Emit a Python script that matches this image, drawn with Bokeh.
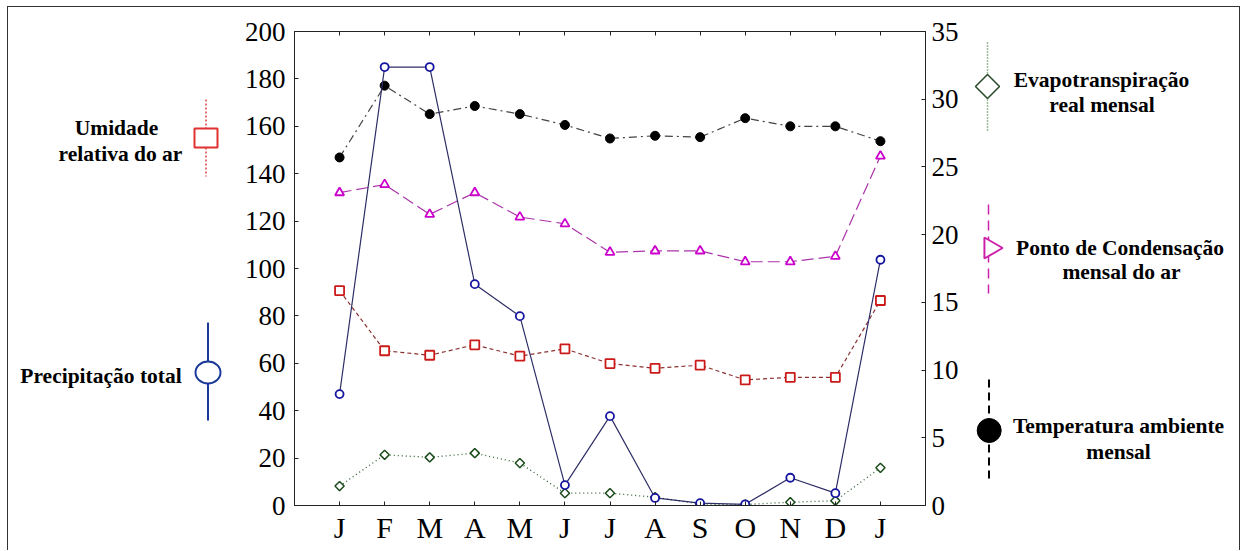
from bokeh.plotting import figure
from bokeh.models import Range1d, LinearAxis, FixedTicker
from bokeh.layouts import row
from bokeh.embed import file_html
from bokeh.resources import INLINE
from bokeh.core.properties import value
import math

# ---- data ----
months = ["J", "F", "M", "A", "M", "J", "J", "A", "S", "O", "N", "D", "J"]
month_pos = list(range(1, 14))
precipitacao = [47.0, 185.0, 185.0, 93.4, 79.9, 8.6, 37.7, 3.2, 1.0, 0.5, 11.7, 5.2, 103.7]
umidade = [90.7, 65.3, 63.4, 67.8, 63.0, 66.1, 59.9, 57.9, 59.2, 53.0, 54.1, 54.1, 86.5]
evapo = [8.2, 21.4, 20.3, 22.1, 17.9, 5.2, 5.2, 3.5, 0.6, 0.4, 1.4, 2.0, 15.9]
condensacao = [23.1, 23.7, 21.5, 23.1, 21.3, 20.8, 18.7, 18.8, 18.8, 18.0, 18.0, 18.4, 25.8]
temperatura = [25.7, 31.0, 28.9, 29.5, 28.9, 28.1, 27.1, 27.3, 27.2, 28.6, 28.0, 28.0, 26.9]
left_ticks = list(range(0, 201, 20))
right_ticks = list(range(0, 36, 5))

FONT = "Liberation Serif"
AX = "#222222"

# geometry (page pixels): content box starts at x=8, y=7
CX, CY = 8, 7
FL, FR, FT, FB = 294, 925, 31, 505
H = 543
MB_TOP, MB_BOT = FT - CY, CY + H - FB

# ---- main chart ----
p = figure(width=749, height=H, x_range=Range1d(0, 14), y_range=Range1d(0, 200),
           output_backend="svg", toolbar_location=None,
           min_border_left=70, min_border_right=48, min_border_top=MB_TOP, min_border_bottom=MB_BOT)
p.extra_y_ranges = {"right": Range1d(0, 35)}
p.grid.visible = False
p.outline_line_color = AX
p.background_fill_color = "white"
p.border_fill_color = "white"


def style_axis(ax, size):
    ax.major_tick_in = 4
    ax.major_tick_out = 0
    ax.minor_tick_line_color = None
    ax.axis_line_color = AX
    ax.major_tick_line_color = AX
    ax.major_label_text_font = FONT
    ax.major_label_text_font_size = size
    ax.major_label_text_color = "black"


xa = p.xaxis[0]
xa.ticker = FixedTicker(ticks=month_pos)
xa.major_label_overrides = {i: m for i, m in zip(month_pos, months)}
style_axis(xa, "30px")
xa.major_label_standoff = 5

ya = p.yaxis[0]
ya.ticker = FixedTicker(ticks=left_ticks)
style_axis(ya, "27px")
ya.major_label_standoff = 9

top = LinearAxis(ticker=FixedTicker(ticks=month_pos), major_label_standoff=0)
style_axis(top, "1px")
top.major_label_text_color = None
p.add_layout(top, "above")

ra = LinearAxis(y_range_name="right", ticker=FixedTicker(ticks=right_ticks))
style_axis(ra, "27px")
ra.major_label_standoff = 6
p.add_layout(ra, "right")

# ---- series ----
p.line(month_pos, evapo, color="#2f5f2f", line_dash="1 3", line_width=1.3)
p.scatter(month_pos, evapo, marker="square", angle=math.pi / 4, size=6.5,
          fill_color="white", line_color="#1a4a1a", line_width=1.5)

p.line(month_pos, umidade, color="#8a3030", line_dash="4 3", line_width=1.2)
p.scatter(month_pos, umidade, marker="square", size=9, fill_color="white",
          line_color="#cc1a1a", line_width=1.8)

p.line(month_pos, condensacao, y_range_name="right", color="#aa33aa",
       line_dash="12 5", line_width=1.2)
p.scatter(month_pos, condensacao, y_range_name="right", marker="triangle", size=9,
          fill_color="white", line_color="#cc00cc", line_width=1.8)

p.line(month_pos, temperatura, y_range_name="right", color="#444444",
       line_dash="8 4 2 4", line_width=1.2)
p.scatter(month_pos, temperatura, y_range_name="right", marker="circle", size=9,
          color="black")

p.line(month_pos, precipitacao, color="#2e2e66", line_width=1.2)
p.scatter(month_pos, precipitacao, marker="circle", size=8, fill_color="white",
          line_color="#1515a0", line_width=1.8)


# ---- legend panels: their frames share the main frame's rows; coords = page pixels ----
def panel(x0, x1):
    f = figure(width=x1 - x0, height=H, x_range=Range1d(x0, x1), y_range=Range1d(FB, FT),
               output_backend="svg", toolbar_location=None,
               min_border_left=0, min_border_right=0,
               min_border_top=MB_TOP, min_border_bottom=MB_BOT,
               x_axis_location=None, y_axis_location=None)
    f.grid.visible = False
    f.outline_line_color = None
    f.background_fill_color = "white"
    f.border_fill_color = "white"
    return f


def label(f, x, y, t):
    f.text(x=[x], y=[y], text=[t], text_font=value(FONT), text_font_style="bold",
           text_font_size="21.5px", text_align="center", text_baseline="alphabetic",
           text_color="black")


lp = panel(CX, FL - 70)
# Umidade relativa do ar
lp.segment(x0=[205.5], y0=[99], x1=[205.5], y1=[176], color="#e04040", line_dash="2 2", line_width=1.5)
lp.rect(x=[205.5], y=[137.5], width=23, height=19, width_units="screen", height_units="screen",
        fill_color="white", line_color="#e03030", line_width=2)
label(lp, 116, 127, "Umidade")
label(lp, 120, 153, "relativa do ar")
# Precipitação total
lp.segment(x0=[207.5], y0=[322], x1=[207.5], y1=[420], color="#1a3a9a", line_width=2)
lp.ellipse(x=[207.5], y=[372], width=25, height=22, width_units="screen", height_units="screen",
           fill_color="white", line_color="#1a3a9a", line_width=2)
label(lp, 100.5, 375, "Precipitação total")

rp = panel(FR + 48, 1239)
# Evapotranspiração real mensal
rp.segment(x0=[987], y0=[42], x1=[987], y1=[130], color="#3a7a3a", line_dash="1 2", line_width=1.5)
rp.scatter(x=[987], y=[86], marker="square", angle=math.pi / 4, size=17, fill_color="white",
           line_color="#2a4a2a", line_width=1.5)
label(rp, 1101, 79, "Evapotranspiração")
label(rp, 1101.5, 104, "real mensal")
# Ponto de Condensação mensal do ar
rp.segment(x0=[988], y0=[204], x1=[988], y1=[293], color="#cc22aa", line_dash="10 6", line_width=1.5)
rp.scatter(x=[990], y=[247.5], marker="triangle", angle=-math.pi / 2, size=21, fill_color="white",
           line_color="#cc22aa", line_width=2)
label(rp, 1119.5, 247, "Ponto de Condensação")
label(rp, 1121, 271, "mensal do ar")
# Temperatura ambiente mensal
rp.segment(x0=[988.5], y0=[379], x1=[988.5], y1=[480], color="black", line_dash="8 5", line_width=2)
rp.scatter(x=[988.7], y=[430], marker="circle", size=24, color="black")
label(rp, 1118, 425, "Temperatura ambiente")
label(rp, 1118, 451, "mensal")

layout = row(lp, p, rp, styles={"border-left": "1px solid #333", "border-top": "1px solid #333",
                                "border-right": "1px solid #333",
                                "margin-left": "7px", "margin-top": "6px"})

open("out.html", "w").write(file_html(layout, INLINE))
